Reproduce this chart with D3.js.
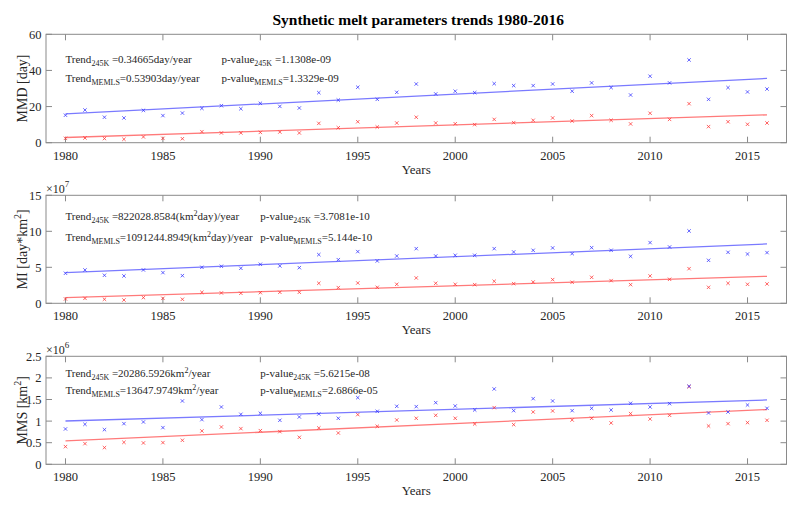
<!DOCTYPE html>
<html>
<head>
<meta charset="utf-8">
<script src="https://cdn.jsdelivr.net/npm/d3@7"></script>
<style>
  html, body { margin: 0; padding: 0; background: #ffffff; }
  svg { display: block; }
  text { font-family: "Liberation Serif", "Times New Roman", serif; fill: #262626; }
</style>
</head>
<body>
<svg id="chart" width="788" height="505"></svg>
<script>
// ---------------- data ----------------
const years = d3.range(1980, 2017);

// MMD [day]
const mmd245K  = [2.4, 2.6, 2.3, 1.9, 3.2, 2.4, 2.2, 6.1, 5.4, 5.4, 5.7, 5.9, 5.4, 10.7, 8.3, 11.6, 8.7, 10.9, 14.1,
                  10.9, 10.5, 10.0, 12.9, 11.1, 12.4, 13.7, 12.0, 15.0, 12.4, 10.4, 16.3, 12.9, 21.6, 8.9, 11.6, 10.2, 10.9];
const mmdMEMLS = [15.2, 18.1, 14.1, 13.7, 17.9, 15.0, 16.4, 19.0, 20.5, 18.8, 21.8, 20.1, 19.2, 27.7, 23.6, 30.7, 24.0, 27.9, 32.5,
                  27.0, 28.5, 27.7, 32.7, 31.6, 31.6, 32.5, 28.5, 33.1, 30.5, 26.4, 36.8, 33.1, 45.8, 24.0, 30.5, 28.1, 29.7];

// MI [day*km^2], in units of 1e7
const mi245K  = [0.60, 0.69, 0.56, 0.46, 0.79, 0.69, 0.56, 1.53, 1.44, 1.39, 1.48, 1.53, 1.53, 2.78, 2.18, 2.82, 2.22, 2.64, 3.52,
                 2.78, 2.64, 2.59, 3.06, 2.73, 2.96, 3.29, 2.92, 3.61, 3.15, 2.59, 3.80, 3.33, 4.81, 2.22, 2.78, 2.64, 2.69];
const miMEMLS = [4.17, 4.63, 3.89, 3.80, 4.63, 4.26, 3.84, 5.00, 5.14, 4.86, 5.42, 5.19, 4.95, 6.76, 6.06, 7.18, 5.88, 6.57, 7.59,
                 6.57, 6.67, 6.67, 7.59, 7.13, 7.36, 7.69, 6.90, 7.73, 7.36, 6.53, 8.43, 7.82, 10.05, 5.97, 7.08, 6.85, 7.04];

// MMS [km^2], in units of 1e6
const mms245K  = [0.409, 0.478, 0.386, 0.509, 0.494, 0.502, 0.556, 0.772, 0.864, 0.826, 0.779, 0.756, 0.625, 0.841, 0.725, 1.150, 0.880, 1.026, 1.065,
                  1.134, 1.065, 0.934, 1.312, 0.918, 1.211, 1.235, 1.026, 1.065, 0.957, 1.173, 1.049, 1.134, 1.798, 0.887, 0.941, 0.965, 1.019];
const mmsMEMLS = [0.818, 0.926, 0.802, 0.941, 0.980, 0.849, 1.466, 1.034, 1.327, 1.157, 1.181, 1.019, 1.096, 1.165, 1.065, 1.543, 1.227, 1.343, 1.335,
                  1.427, 1.350, 1.258, 1.744, 1.242, 1.520, 1.466, 1.242, 1.296, 1.258, 1.412, 1.327, 1.404, 1.806, 1.188, 1.211, 1.373, 1.296];

const xTicks = [1980, 1985, 1990, 1995, 2000, 2005, 2010, 2015];
const yTicksMMD = [0, 20, 40, 60];
const yTicksMI  = [0, 5, 10, 15];
const yTicksMMS = [0, 0.5, 1, 1.5, 2, 2.5];
const yTickLabelsMMS = ["0", "0.5", "1", "1.5", "2", "2.5"];

const titleText = "Synthetic melt parameters trends 1980-2016";
const xLabelText = "Years";

// annotation texts: [main, subscript, rest(with optional superscript parts)]
const annMMD = {
  t1: ["Trend", "245K", [[" =0.34665day/year", 0]]],
  t2: ["Trend", "MEMLS", [["=0.53903day/year", 0]]],
  p1: ["p-value", "245K", [[" =1.1308e-09", 0]]],
  p2: ["p-value", "MEMLS", [["=1.3329e-09", 0]]]
};
const annMI = {
  t1: ["Trend", "245K", [[" =822028.8584(km", 0], ["2", 1], ["day)/year", 0]]],
  t2: ["Trend", "MEMLS", [["=1091244.8949(km", 0], ["2", 1], ["day)/year", 0]]],
  p1: ["p-value", "245K", [[" =3.7081e-10", 0]]],
  p2: ["p-value", "MEMLS", [["=5.144e-10", 0]]]
};
const annMMS = {
  t1: ["Trend", "245K", [[" =20286.5926km", 0], ["2", 1], ["/year", 0]]],
  t2: ["Trend", "MEMLS", [["=13647.9749km", 0], ["2", 1], ["/year", 0]]],
  p1: ["p-value", "245K", [[" =5.6215e-08", 0]]],
  p2: ["p-value", "MEMLS", [["=2.6866e-05", 0]]]
};

// ---------------- layout ----------------
const W = 788, H = 505;
const left = 46, right = 786.5;
const panels = [
  { top: 34.3, bottom: 142.7, domain: [0, 60], ticks: yTicksMMD, tickLabels: null, a: mmd245K, b: mmdMEMLS,
    label: [["MMD [day]", 0]], exp: null, ann: annMMD, annY: [44, 33.8], annX: [1980, 1988] },
  { top: 195.3, bottom: 303.3, domain: [0, 15], ticks: yTicksMI, tickLabels: null, a: mi245K, b: miMEMLS,
    label: [["MI [day*km", 0], ["2", 1], ["]", 0]], exp: "7", ann: annMI, annY: [11.57, 8.7], annX: [1980, 1990] },
  { top: 356.3, bottom: 464.3, domain: [0, 2.5], ticks: yTicksMMS, tickLabels: yTickLabelsMMS, a: mms245K, b: mmsMEMLS,
    label: [["MMS [km", 0], ["2", 1], ["]", 0]], exp: "6", ann: annMMS, annY: [2.03, 1.62], annX: [1980, 1990] }
];

const colA = "#ff3030", colB = "#3030ff";
const lineA = "#ff7a7a", lineB = "#7a7aff";
const axisCol = "#8a8a8a";

const svg = d3.select("#chart");
const x = d3.scaleLinear().domain([1979, 2017]).range([left, right]);

svg.append("text")
  .attr("x", (left + right) / 2 + 2).attr("y", 25)
  .attr("text-anchor", "middle")
  .style("font-size", "15.5px").style("font-weight", "bold").style("fill", "#000")
  .text(titleText);

function linreg(xs, ys) {
  const mx = d3.mean(xs), my = d3.mean(ys);
  let num = 0, den = 0;
  xs.forEach((xv, i) => { num += (xv - mx) * (ys[i] - my); den += (xv - mx) * (xv - mx); });
  const m = num / den;
  return { m, c: my - m * mx };
}

function addRich(sel, parts, subSize, baseSize) {
  parts.forEach(([txt, sup]) => {
    const t = sel.append("tspan").text(txt);
    if (sup === 1) t.attr("dy", -5).style("font-size", subSize + "px");
    else if (sup === -1) t.attr("dy", 3).style("font-size", subSize + "px");
  });
}

function annotation(g, xPos, yPos, spec) {
  const [main, sub, rest] = spec;
  const t = g.append("text").attr("x", xPos).attr("y", yPos).style("font-size", "11px");
  t.append("tspan").text(main);
  t.append("tspan").attr("dy", 3).style("font-size", "8px").text(sub);
  let first = true;
  rest.forEach(([txt, sup]) => {
    const s = t.append("tspan").text(txt);
    if (first) { s.attr("dy", -3); first = false; }
    if (sup === 1) { s.attr("dy", -4).style("font-size", "8px"); }
    else if (sup === 0 && s.attr("dy") === null) {
      // return from superscript
      s.attr("dy", 4);
    }
  });
}

panels.forEach((p) => {
  const y = d3.scaleLinear().domain(p.domain).range([p.bottom, p.top]);
  const g = svg.append("g");

  // box
  g.append("rect").attr("x", left).attr("y", p.top)
    .attr("width", right - left).attr("height", p.bottom - p.top)
    .attr("fill", "none").attr("stroke", axisCol).attr("stroke-width", 1);

  // x ticks (inside, bottom and top) + labels
  xTicks.forEach(t => {
    const xx = x(t);
    g.append("line").attr("x1", xx).attr("x2", xx).attr("y1", p.bottom).attr("y2", p.bottom - 6)
      .attr("stroke", axisCol);
    g.append("line").attr("x1", xx).attr("x2", xx).attr("y1", p.top).attr("y2", p.top + 6)
      .attr("stroke", axisCol);
    g.append("text").attr("x", xx).attr("y", p.bottom + 17).attr("text-anchor", "middle")
      .style("font-size", "12.5px").text(t);
  });

  // y ticks (inside, left and right) + labels
  p.ticks.forEach((t, i) => {
    const yy = y(t);
    g.append("line").attr("x1", left).attr("x2", left + 6).attr("y1", yy).attr("y2", yy).attr("stroke", axisCol);
    g.append("line").attr("x1", right).attr("x2", right - 6).attr("y1", yy).attr("y2", yy).attr("stroke", axisCol);
    g.append("text").attr("x", 41.5).attr("y", yy + 4.5).attr("text-anchor", "end")
      .style("font-size", "12.5px").text(p.tickLabels ? p.tickLabels[i] : t);
  });

  // exponent label
  if (p.exp) {
    const e = g.append("text").attr("x", 46).attr("y", p.top - 2).style("font-size", "12px");
    e.append("tspan").text("\u00d710");
    e.append("tspan").attr("dy", -6).style("font-size", "9px").text(p.exp);
  }

  // y label
  const yl = g.append("text")
    .attr("transform", `translate(26.5,${(p.top + p.bottom) / 2}) rotate(-90)`)
    .attr("text-anchor", "middle").style("font-size", "14px");
  let sup = false;
  p.label.forEach(([txt, s]) => {
    const ts = yl.append("tspan").text(txt);
    if (s === 1) { ts.attr("dy", -6).style("font-size", "10px"); sup = true; }
    else if (sup) { ts.attr("dy", 6); sup = false; }
  });

  // x label
  g.append("text").attr("x", (left + right) / 2).attr("y", p.bottom + 31)
    .attr("text-anchor", "middle").style("font-size", "13px").text(xLabelText);

  // trend lines
  [[p.a, lineA], [p.b, lineB]].forEach(([vals, col]) => {
    const r = linreg(years, vals);
    const x0 = years[0], x1 = years[years.length - 1];
    g.append("line")
      .attr("x1", x(x0)).attr("y1", y(r.m * x0 + r.c))
      .attr("x2", x(x1)).attr("y2", y(r.m * x1 + r.c))
      .attr("stroke", col).attr("stroke-width", 1.3);
  });

  // markers (x)
  const s = 1.7;
  [[p.a, colA], [p.b, colB]].forEach(([vals, col]) => {
    g.append("g").selectAll("path").data(vals).join("path")
      .attr("d", (d, i) => {
        const cx = x(years[i]), cy = y(d);
        return `M${cx - s},${cy - s}L${cx + s},${cy + s}M${cx - s},${cy + s}L${cx + s},${cy - s}`;
      })
      .attr("stroke", col).attr("stroke-width", 1).attr("stroke-opacity", 0.75).attr("fill", "none");
  });

  // annotations
  annotation(g, x(p.annX[0]), y(p.annY[0]), p.ann.t1);
  annotation(g, x(p.annX[0]), y(p.annY[1]), p.ann.t2);
  annotation(g, x(p.annX[1]), y(p.annY[0]), p.ann.p1);
  annotation(g, x(p.annX[1]), y(p.annY[1]), p.ann.p2);
});
</script>
</body>
</html>
